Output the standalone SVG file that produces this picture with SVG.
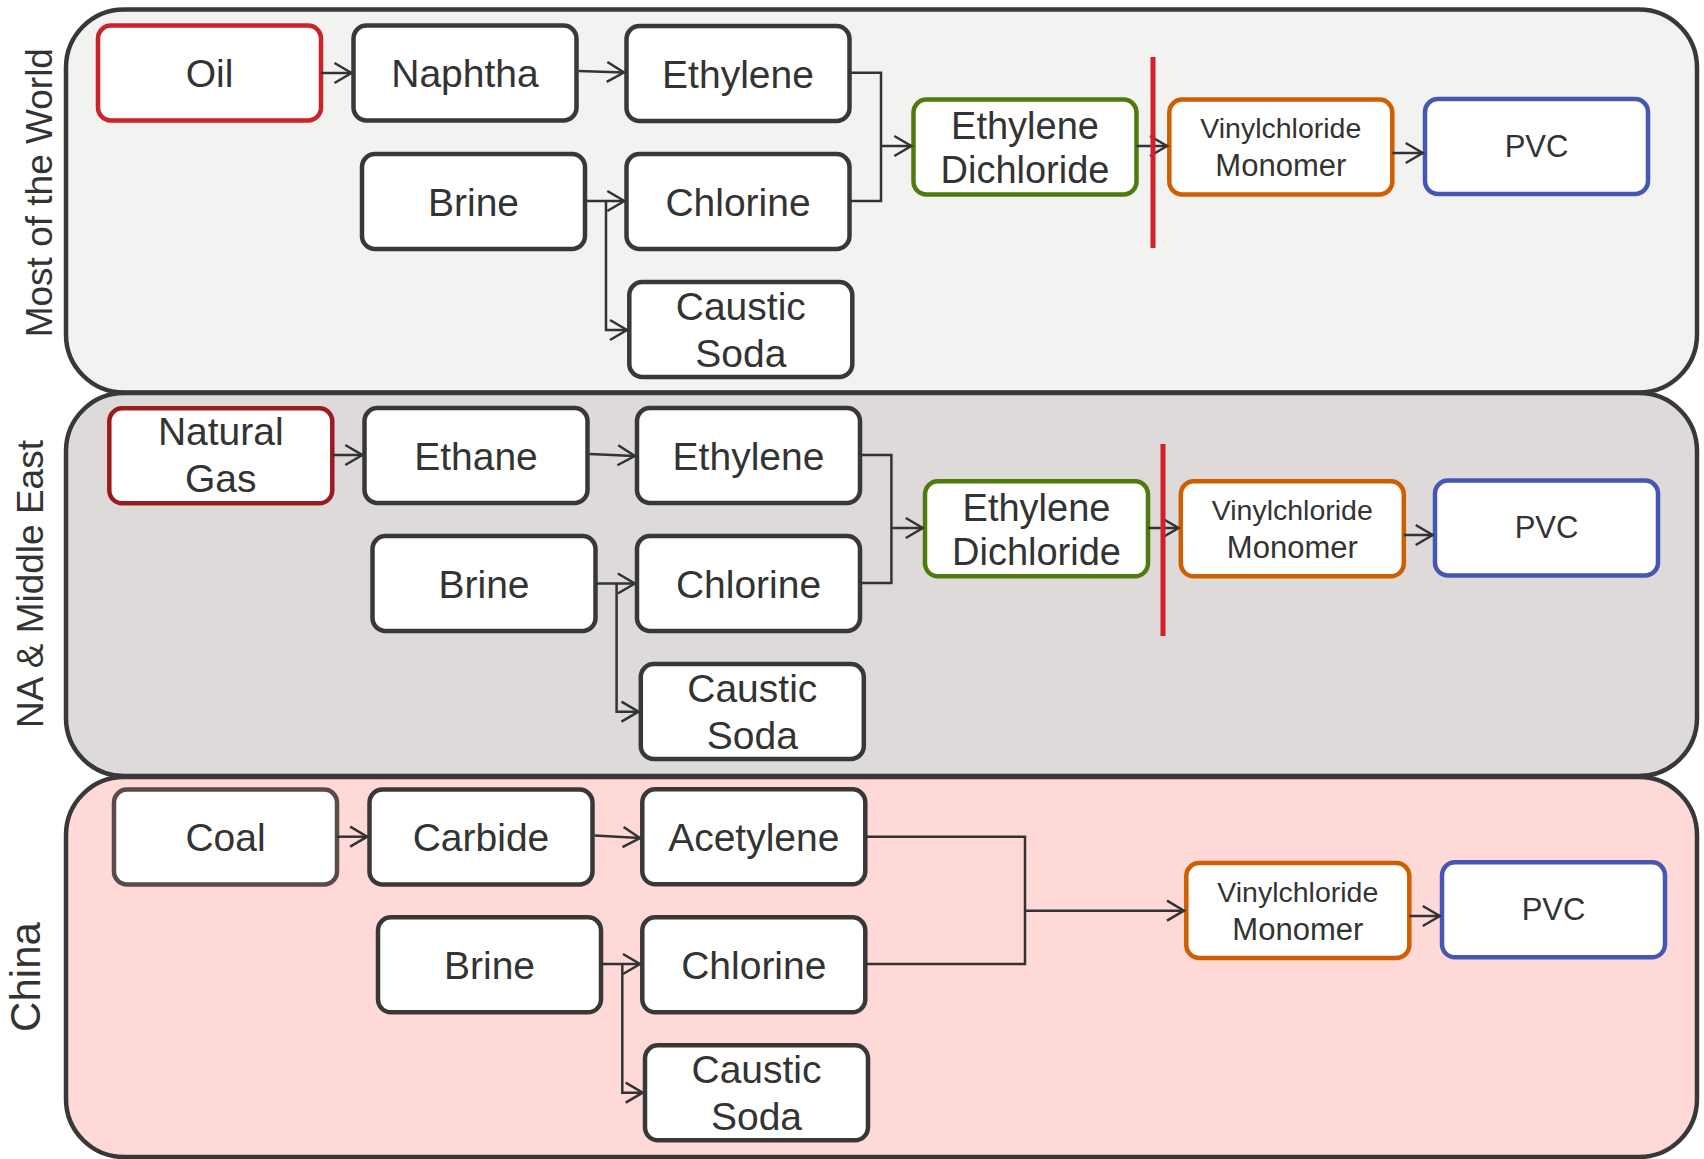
<svg xmlns="http://www.w3.org/2000/svg" width="1704" height="1159" viewBox="0 0 1704 1159">
  <defs>
    <style>
      .panel { stroke: #383838; stroke-width: 4.5; }
      .box { fill: #ffffff; stroke: #383838; stroke-width: 4.5; }
      .t { font-family: "Liberation Sans", Arial, Helvetica, sans-serif; fill: #333333; text-anchor: middle; }
      .big { font-size: 39px; }
      .edc { font-size: 38px; }
      .vc { font-size: 28.5px; }
      .mono { font-size: 31px; }
      .pvc { font-size: 31px; }
      .side { font-size: 37px; }
      .conn { fill: none; stroke: #333333; stroke-width: 2.5; }
      .redline { stroke: #d0202a; stroke-width: 5; }
    </style>
    <marker id="arr" markerUnits="userSpaceOnUse" markerWidth="22" markerHeight="24" refX="18" refY="11" orient="auto" overflow="visible">
      <path d="M1,1 L18,11 L1,21" fill="none" stroke="#333333" stroke-width="2.5"/>
    </marker>
  </defs>

  <!-- Panels -->
  <g id="panel-world">
    <rect class="panel" x="66" y="9.5" width="1631" height="383" rx="58" ry="58" fill="#f2f2f0"/>
    <text class="t side" transform="translate(51.5,192.7) rotate(-90)">Most of the World</text>
  </g>
  <g id="panel-na">
    <rect class="panel" x="66" y="393" width="1631" height="383" rx="58" ry="58" fill="#dddad9"/>
    <text class="t side" transform="translate(43,584) rotate(-90)">NA &amp; Middle East</text>
  </g>
  <g id="panel-china">
    <rect class="panel" x="66" y="777" width="1631" height="380" rx="58" ry="58" fill="#ffd8d8"/>
    <text class="t" font-size="42" transform="translate(40,977) rotate(-90)">China</text>
  </g>

  <!-- Panel 1 nodes -->
  <g id="w-oil" transform="translate(98,25.5)">
    <rect class="box" width="223" height="95" rx="13" style="stroke:#cc2229"/>
    <text class="t big" x="111.5" y="61.8">Oil</text>
  </g>
  <g id="w-naphtha" transform="translate(353.5,25.5)">
    <rect class="box" width="223" height="95" rx="13"/>
    <text class="t big" x="111.5" y="61.8">Naphtha</text>
  </g>
  <g id="w-ethylene" transform="translate(626.5,26)">
    <rect class="box" width="223" height="95" rx="13"/>
    <text class="t big" x="111.5" y="61.5">Ethylene</text>
  </g>
  <g id="w-brine" transform="translate(362,154)">
    <rect class="box" width="223" height="95" rx="13"/>
    <text class="t big" x="111.5" y="61.5">Brine</text>
  </g>
  <g id="w-chlorine" transform="translate(626.5,154)">
    <rect class="box" width="223" height="95" rx="13"/>
    <text class="t big" x="111.5" y="61.5">Chlorine</text>
  </g>
  <g id="w-caustic" transform="translate(629.3,282)">
    <rect class="box" width="223" height="95" rx="13"/>
    <text class="t big" x="111.5" y="38">Caustic</text>
    <text class="t big" x="111.5" y="84.7">Soda</text>
  </g>
  <g id="w-edc" transform="translate(913.5,99.5)">
    <rect class="box" width="223" height="95" rx="13" style="stroke:#4f7a0e"/>
    <text class="t edc" x="111.5" y="39.8">Ethylene</text>
    <text class="t edc" x="111.5" y="83.8">Dichloride</text>
  </g>
  <g id="w-vcm" transform="translate(1169.3,99.5)">
    <rect class="box" width="223" height="95" rx="13" style="stroke:#cf5e00"/>
    <text class="t vc" x="111.5" y="38.8">Vinylchloride</text>
    <text class="t mono" x="111.5" y="76.5">Monomer</text>
  </g>
  <g id="w-pvc" transform="translate(1425,99)">
    <rect class="box" width="223" height="95" rx="13" style="stroke:#4657b3"/>
    <text class="t pvc" x="111.5" y="57.7">PVC</text>
  </g>

  <!-- Panel 2 nodes -->
  <g id="n-natgas" transform="translate(109.3,408.3)">
    <rect class="box" width="223" height="95" rx="13" style="stroke:#9b1c20"/>
    <text class="t big" x="111.5" y="37">Natural</text>
    <text class="t big" x="111.5" y="83.6">Gas</text>
  </g>
  <g id="n-ethane" transform="translate(364.5,408)">
    <rect class="box" width="223" height="95" rx="13"/>
    <text class="t big" x="111.5" y="61.5">Ethane</text>
  </g>
  <g id="n-ethylene" transform="translate(637,408)">
    <rect class="box" width="223" height="95" rx="13"/>
    <text class="t big" x="111.5" y="61.5">Ethylene</text>
  </g>
  <g id="n-brine" transform="translate(372.5,536)">
    <rect class="box" width="223" height="95" rx="13"/>
    <text class="t big" x="111.5" y="61.5">Brine</text>
  </g>
  <g id="n-chlorine" transform="translate(637,536)">
    <rect class="box" width="223" height="95" rx="13"/>
    <text class="t big" x="111.5" y="61.5">Chlorine</text>
  </g>
  <g id="n-caustic" transform="translate(640.8,664)">
    <rect class="box" width="223" height="95" rx="13"/>
    <text class="t big" x="111.5" y="38">Caustic</text>
    <text class="t big" x="111.5" y="84.7">Soda</text>
  </g>
  <g id="n-edc" transform="translate(925,481.3)">
    <rect class="box" width="223" height="95" rx="13" style="stroke:#4f7a0e"/>
    <text class="t edc" x="111.5" y="39.8">Ethylene</text>
    <text class="t edc" x="111.5" y="83.8">Dichloride</text>
  </g>
  <g id="n-vcm" transform="translate(1180.8,481.3)">
    <rect class="box" width="223" height="95" rx="13" style="stroke:#cf5e00"/>
    <text class="t vc" x="111.5" y="38.8">Vinylchloride</text>
    <text class="t mono" x="111.5" y="76.5">Monomer</text>
  </g>
  <g id="n-pvc" transform="translate(1435,480.5)">
    <rect class="box" width="223" height="95" rx="13" style="stroke:#4657b3"/>
    <text class="t pvc" x="111.5" y="57.7">PVC</text>
  </g>

  <!-- Panel 3 nodes -->
  <g id="c-coal" transform="translate(114,789.5)">
    <rect class="box" width="223" height="95" rx="13" style="stroke:#5a4a4a"/>
    <text class="t big" x="111.5" y="61.5">Coal</text>
  </g>
  <g id="c-carbide" transform="translate(369.5,789.5)">
    <rect class="box" width="223" height="95" rx="13"/>
    <text class="t big" x="111.5" y="61.5">Carbide</text>
  </g>
  <g id="c-acetylene" transform="translate(642.3,789.3)">
    <rect class="box" width="223" height="95" rx="13"/>
    <text class="t big" x="111.5" y="61.5">Acetylene</text>
  </g>
  <g id="c-brine" transform="translate(378,917.3)">
    <rect class="box" width="223" height="95" rx="13"/>
    <text class="t big" x="111.5" y="61.5">Brine</text>
  </g>
  <g id="c-chlorine" transform="translate(642.3,917.3)">
    <rect class="box" width="223" height="95" rx="13"/>
    <text class="t big" x="111.5" y="61.5">Chlorine</text>
  </g>
  <g id="c-caustic" transform="translate(645,1045.3)">
    <rect class="box" width="223" height="95" rx="13"/>
    <text class="t big" x="111.5" y="38">Caustic</text>
    <text class="t big" x="111.5" y="84.7">Soda</text>
  </g>
  <g id="c-vcm" transform="translate(1186.3,863)">
    <rect class="box" width="223" height="95" rx="13" style="stroke:#cf5e00"/>
    <text class="t vc" x="111.5" y="38.8">Vinylchloride</text>
    <text class="t mono" x="111.5" y="76.5">Monomer</text>
  </g>
  <g id="c-pvc" transform="translate(1442,862.3)">
    <rect class="box" width="223" height="95" rx="13" style="stroke:#4657b3"/>
    <text class="t pvc" x="111.5" y="57.7">PVC</text>
  </g>

  <!-- Connectors -->
  <g id="connectors">
    <!-- Panel 1 -->
    <line class="conn" x1="321" y1="73" x2="351.5" y2="73" marker-end="url(#arr)"/>
    <line class="conn" x1="578.5" y1="71" x2="624" y2="72.5" marker-end="url(#arr)"/>
    <polyline class="conn" points="849.5,72.7 881,72.7 881,201 849.5,201"/>
    <line class="conn" x1="881" y1="146" x2="911.3" y2="146" marker-end="url(#arr)"/>
    <line class="conn" x1="585" y1="201" x2="624.3" y2="201" marker-end="url(#arr)"/>
    <polyline class="conn" points="606,201 606,330 627,330" marker-end="url(#arr)"/>
    <line class="conn" x1="1136.5" y1="146" x2="1167" y2="146" marker-end="url(#arr)"/>
    <line class="conn" x1="1392.3" y1="153" x2="1422.7" y2="153" marker-end="url(#arr)"/>
    <line class="redline" x1="1153" y1="57" x2="1153" y2="248"/>

    <!-- Panel 2 -->
    <line class="conn" x1="332.3" y1="455" x2="362.3" y2="455" marker-end="url(#arr)"/>
    <line class="conn" x1="589.5" y1="454" x2="634.8" y2="456" marker-end="url(#arr)"/>
    <polyline class="conn" points="860,455 891.4,455 891.4,583 860,583"/>
    <line class="conn" x1="891.4" y1="528" x2="922.8" y2="528" marker-end="url(#arr)"/>
    <line class="conn" x1="595.5" y1="583.5" x2="634.8" y2="583.5" marker-end="url(#arr)"/>
    <polyline class="conn" points="616.6,583.5 616.6,711.7 638.5,711.7" marker-end="url(#arr)"/>
    <line class="conn" x1="1148" y1="528" x2="1178.5" y2="528" marker-end="url(#arr)"/>
    <line class="conn" x1="1403.8" y1="535" x2="1432.7" y2="535" marker-end="url(#arr)"/>
    <line class="redline" x1="1163" y1="444" x2="1163" y2="636"/>

    <!-- Panel 3 -->
    <line class="conn" x1="337" y1="836.7" x2="367.2" y2="836.7" marker-end="url(#arr)"/>
    <line class="conn" x1="594.5" y1="835.5" x2="640" y2="838" marker-end="url(#arr)"/>
    <polyline class="conn" points="865.3,836.7 1025,836.7 1025,964 865.3,964"/>
    <line class="conn" x1="1025" y1="910.7" x2="1184" y2="910.7" marker-end="url(#arr)"/>
    <line class="conn" x1="601" y1="964" x2="640" y2="964" marker-end="url(#arr)"/>
    <polyline class="conn" points="622.3,964 622.3,1092.7 642.7,1092.7" marker-end="url(#arr)"/>
    <line class="conn" x1="1409.3" y1="916" x2="1439.8" y2="916" marker-end="url(#arr)"/>
  </g>
</svg>
